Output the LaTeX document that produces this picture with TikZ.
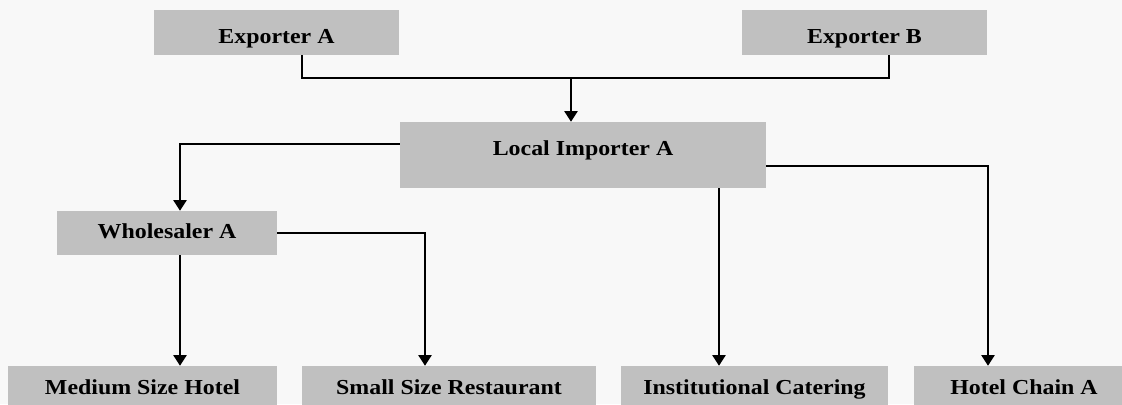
\documentclass[tikz,border=0pt]{standalone}
\usepackage{fontspec}
\setmainfont{Liberation Serif}[FakeStretch=1.12]
\usepackage{tikz}
\usetikzlibrary{arrows.meta}
\usetikzlibrary{calc}
\usetikzlibrary{positioning}
\definecolor{boxgray}{HTML}{C0C0C0}
\definecolor{pagebg}{HTML}{F8F8F8}
\tikzset{
	chainbox/.style={fill=boxgray, draw=none, inner sep=0pt, text height=15.8pt, text depth=0pt, font=\fontsize{16pt}{19pt}\selectfont\bfseries},
	link/.style={line width=1.1pt, -{Triangle[width=10pt,length=8pt]}},
	bar/.style={line width=1.1pt}
}
\begin{document}
\begin{tikzpicture}[x=0.75pt,y=-0.75pt]
		\useasboundingbox (0,0) rectangle (1122,404);
		\fill[pagebg] (0,0) rectangle (1122,404);
		\clip (0,0) rectangle (1122,404);
		
		% exporters
		\node[chainbox, minimum width=245*0.75pt, minimum height=45*0.75pt] (expA) at (276.5,32.5) {Exporter A};
		\node[chainbox, minimum width=245*0.75pt, minimum height=45*0.75pt] (expB) at (864.5,32.5) {Exporter B};
		
		% importer
		\node[chainbox, minimum width=366*0.75pt, minimum height=66*0.75pt, text height=0pt] (imp) at (583,155) {Local Importer A};
		
		% wholesaler
		\node[chainbox, minimum width=220*0.75pt, minimum height=44*0.75pt, text height=7.5pt] (whole) at (167,233) {Wholesaler A};
		
		% buyers
		\node[chainbox, minimum width=269*0.75pt, minimum height=44*0.75pt, text height=9pt] (hotel) at (142.5,388) {Medium Size Hotel};
		\node[chainbox, minimum width=294*0.75pt, minimum height=44*0.75pt, text height=9pt] (rest) at (449,388) {Small Size Restaurant};
		\node[chainbox, minimum width=267*0.75pt, minimum height=44*0.75pt, text height=9pt] (cater) at (754.5,388) {Institutional Catering};
		\node[chainbox, minimum width=220*0.75pt, minimum height=44*0.75pt, text height=9pt] (chain) at (1024,388) {Hotel Chain A};
		
		% exporters to importer
		\coordinate (ea) at ($(expA.south)+(25.5,0)$);
		\coordinate (eb) at ($(expB.south)+(24.5,0)$);
		\coordinate (bus) at (571,78);
		\draw[bar] (ea) |- (bus) -| (eb);
		\draw[link] (bus) -- (bus |- imp.north);
		
		% importer to wholesaler and buyers
		\draw[link] ($(imp.west)+(0,-11)$) -| ($(whole.north)+(13,0)$);
		\coordinate (ib) at ($(imp.south)+(136,0)$);
		\draw[link] (ib) -- (ib |- cater.north);
		\draw[link] ($(imp.east)+(0,11)$) -| ($(chain.north)+(-36,0)$);
		
		% wholesaler to buyers
		\coordinate (ws) at ($(whole.south)+(13,0)$);
		\draw[link] (ws) -- (ws |- hotel.north);
		\draw[link] (whole.east) -| ($(rest.north)+(-24,0)$);
	\end{tikzpicture}
\end{document}
